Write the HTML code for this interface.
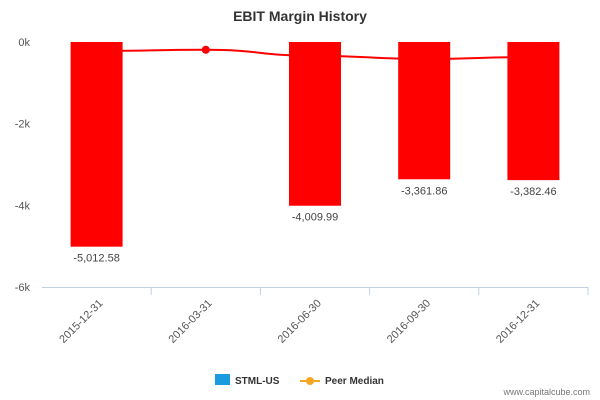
<!DOCTYPE html>
<html><head><meta charset="utf-8"><style>
body{margin:0;background:#fff;font-family:"Liberation Sans","DejaVu Sans",sans-serif}
</style></head><body>
<svg width="600" height="400" id="c" style="display:block">
<text x="300" y="21" text-anchor="middle" font-size="14" font-weight="bold" fill="#333">EBIT Margin History</text>
<line x1="42" y1="287.5" x2="588" y2="287.5" stroke="#c0d0e0"/>
<g id="g"></g>
<g>
<rect x="215" y="374" width="15" height="11" fill="#1a9be0"/>
<text x="235" y="384" font-size="10" font-weight="bold" fill="#333">STML-US</text>
<line x1="300" y1="381" x2="320" y2="381" stroke="#f5a623" stroke-width="2"/>
<circle cx="310" cy="381" r="4" fill="#f5a623"/>
<text x="325" y="384" font-size="10" font-weight="bold" fill="#333">Peer Median</text>
</g>
<text x="590" y="395" text-anchor="end" font-size="9" fill="#777">www.capitalcube.com</text>
</svg>
<script>
const categories=["2015-12-31","2016-03-31","2016-06-30","2016-09-30","2016-12-31"];
const stmlValues=[-5012.58,null,-4009.99,-3361.86,-3382.46];
const peerValues=[-220,-190,-340,-415,-370];
const yTicks=[0,-2000,-4000,-6000];
const yTickLabels=["0k","-2k","-4k","-6k"];
const NS="http://www.w3.org/2000/svg";
const g=document.getElementById('g');
const X0=42,X1=588,Y0=42,Y1=287;
const band=(X1-X0)/categories.length;
const xc=i=>X0+band*(i+0.5);
const y=v=>Y0+(0-v)/6000*(Y1-Y0);
function mk(t,a){const e=document.createElementNS(NS,t);for(const k in a)e.setAttribute(k,a[k]);g.appendChild(e);return e;}
yTicks.forEach((t,i)=>{const e=mk('text',{x:30,y:y(t)+4,'text-anchor':'end','font-size':11,fill:'#555'});e.textContent=yTickLabels[i];

});
categories.forEach((c,i)=>{const tk=mk('line',{x1:X0+band*(i+1),y1:Y1,x2:X0+band*(i+1),y2:Y1+8,stroke:'#c0d0e0'});


const x=xc(i),yy=Y1+14;const e=mk('text',{x:x+4,y:yy+4,'text-anchor':'end','font-size':11,fill:'#555',transform:`rotate(-45 ${x+4} ${yy})`});e.textContent=c;

});
let d='';const pts=peerValues.map((v,i)=>[xc(i),y(v)]);
d='M'+pts[0].join(',');for(let i=1;i<pts.length;i++){const [a,b]=pts[i-1],[c2,e2]=pts[i];const m=(c2-a)/2;d+=` C${a+m},${b} ${c2-m},${e2} ${c2},${e2}`;}
const pl=mk('path',{d:d,fill:'none',stroke:'#f00',"stroke-width":2});


peerValues.forEach((v,i)=>{const p=mk('circle',{cx:xc(i),cy:y(v),r:4,fill:'#f00'});

});
stmlValues.forEach((v,i)=>{if(v===null)return;const bw=52;const r=mk('rect',{x:xc(i)-bw/2,y:y(0),width:bw,height:y(v)-y(0),fill:'#f00'});


const t=mk('text',{x:xc(i),y:y(v)+15,'text-anchor':'middle','font-size':11,fill:'#444'});t.textContent=v.toLocaleString('en-US',{minimumFractionDigits:2});

});
</script>
</body></html>
